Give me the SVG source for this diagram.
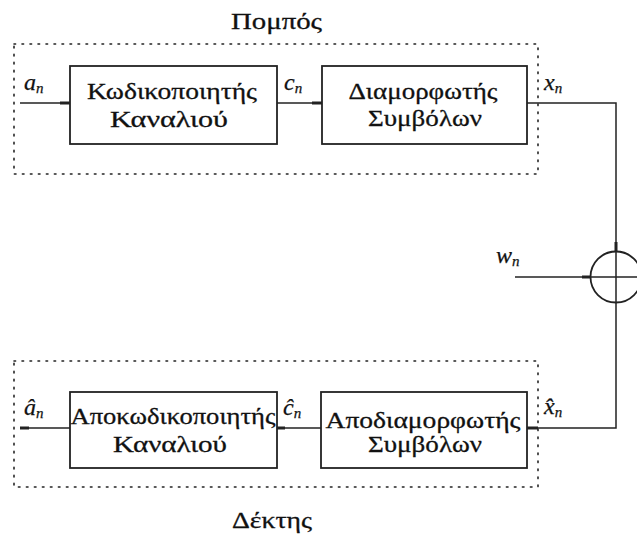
<svg xmlns="http://www.w3.org/2000/svg" width="637" height="536" viewBox="0 0 637 536">
  <style>
    .frame { fill: none; stroke: #222; stroke-width: 1.6; stroke-dasharray: 1.6 6.4; stroke-linecap: round; }
    .block { fill: #fff; stroke: #222; stroke-width: 1.8; }
    .wire { fill: none; stroke: #222; stroke-width: 1.5; }
    .lbl { font-family: "Liberation Serif", "DejaVu Serif", serif; font-size: 24px; fill: #111; stroke: #111; stroke-width: 0.3; text-anchor: middle; }
    .title { font-family: "Liberation Serif", "DejaVu Serif", serif; font-size: 24px; fill: #111; stroke: #111; stroke-width: 0.3; }
    .sym { font-family: "Liberation Serif", "DejaVu Serif", serif; font-style: italic; font-size: 24px; fill: #111; stroke: #111; stroke-width: 0.25; }
    .sub { font-size: 15px; }
    .nub { fill: #222; }
  </style>
  <rect width="637" height="536" fill="#fff"/>

  <!-- dashed enclosures -->
  <g id="transmitter-frame">
    <rect class="frame" x="14" y="44" width="524" height="130"/>
    <text class="title" x="231" y="29" textLength="91" lengthAdjust="spacingAndGlyphs">Πομπός</text>
  </g>
  <g id="receiver-frame">
    <rect class="frame" x="14" y="361" width="524" height="126"/>
    <text class="title" x="232" y="528" textLength="80" lengthAdjust="spacingAndGlyphs">Δέκτης</text>
  </g>

  <!-- connectors; short heavy nubs mark the joins -->
  <g id="connectors">
    <line class="wire" x1="20" y1="103" x2="70" y2="103"/>
    <rect class="nub" x="60" y="101.5" width="10" height="3"/>
    <line class="wire" x1="277" y1="103" x2="322" y2="103"/>
    <rect class="nub" x="312" y="101.5" width="10" height="3"/>
    <polyline class="wire" points="527,103 616,103 616,303"/>
    <rect class="nub" x="614.5" y="242" width="3" height="9"/>
    <line class="wire" x1="515" y1="277" x2="637" y2="277"/>
    <rect class="nub" x="582" y="275.5" width="9" height="3"/>
    <polyline class="wire" points="616,303 616,428 527,428"/>
    <rect class="nub" x="527" y="426.5" width="11" height="3"/>
    <line class="wire" x1="321" y1="428" x2="277" y2="428"/>
    <rect class="nub" x="277" y="426.5" width="8" height="3"/>
    <line class="wire" x1="70" y1="428" x2="20" y2="428"/>
    <rect class="nub" x="20" y="426.5" width="9" height="3"/>
  </g>

  <!-- signal labels -->
  <g id="signal-labels">
    <text class="sym" x="24" y="90">a<tspan class="sub" dy="3">n</tspan></text>
    <text class="sym" x="284" y="90">c<tspan class="sub" dy="3">n</tspan></text>
    <text class="sym" x="544" y="90">x<tspan class="sub" dy="3">n</tspan></text>
    <text class="sym" x="496" y="263">w<tspan class="sub" dy="3">n</tspan></text>
    <text class="sym" x="24" y="415">â<tspan class="sub" dy="3">n</tspan></text>
    <text class="sym" x="283" y="415">ĉ<tspan class="sub" dy="3">n</tspan></text>
    <text class="sym" x="544" y="414">x̂<tspan class="sub" dy="3">n</tspan></text>
  </g>

  <!-- transmitter blocks -->
  <g id="channel-encoder">
    <rect class="block" x="70" y="66" width="207" height="78"/>
    <text class="lbl" x="172" y="99" textLength="170" lengthAdjust="spacingAndGlyphs">Κωδικοποιητής</text>
    <text class="lbl" x="169" y="127" textLength="118" lengthAdjust="spacingAndGlyphs">Καναλιού</text>
  </g>
  <g id="symbol-modulator">
    <rect class="block" x="322" y="66" width="205" height="78"/>
    <text class="lbl" x="423" y="99" textLength="149" lengthAdjust="spacingAndGlyphs">Διαμορφωτής</text>
    <text class="lbl" x="425" y="126" textLength="114" lengthAdjust="spacingAndGlyphs">Συμβόλων</text>
  </g>

  <!-- noise summing junction -->
  <g id="adder">
    <circle cx="616" cy="277" r="25.5" fill="none" stroke="#222" stroke-width="1.8"/>
  </g>

  <!-- receiver blocks -->
  <g id="channel-decoder">
    <rect class="block" x="70" y="392" width="207" height="76"/>
    <text class="lbl" x="173" y="424" textLength="205" lengthAdjust="spacingAndGlyphs">Αποκωδικοποιητής</text>
    <text class="lbl" x="170" y="452" textLength="114" lengthAdjust="spacingAndGlyphs">Καναλιού</text>
  </g>
  <g id="symbol-demodulator">
    <rect class="block" x="321" y="392" width="206" height="76"/>
    <text class="lbl" x="423" y="428" textLength="195" lengthAdjust="spacingAndGlyphs">Αποδιαμορφωτής</text>
    <text class="lbl" x="425" y="452" textLength="114" lengthAdjust="spacingAndGlyphs">Συμβόλων</text>
  </g>
</svg>
